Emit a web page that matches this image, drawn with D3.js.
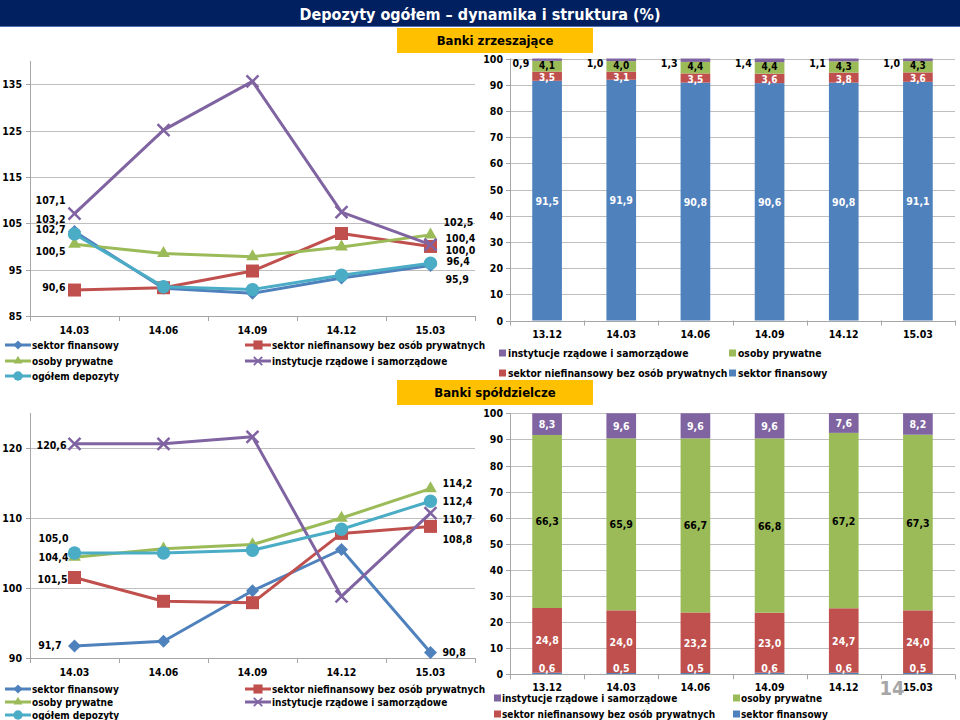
<!DOCTYPE html>
<html><head><meta charset="utf-8">
<script src="https://cdn.jsdelivr.net/npm/d3@7"></script>
<style>
body{margin:0;background:#fff}
svg{display:block}
text{font-family:'DejaVu Sans Condensed','DejaVu Sans',sans-serif;font-weight:bold}
</style>
</head><body><svg id="c" width="960" height="720"></svg>
<script>
// ---------- DATA ----------
const lineDates = ["14.03","14.06","14.09","14.12","15.03"];
const barDates = ["13.12","14.03","14.06","14.09","14.12","15.03"];
const seriesNames = ["sektor finansowy","sektor niefinansowy bez osób prywatnych","osoby prywatne","instytucje rządowe i samorządowe","ogółem depozyty"];

// Banki zrzeszające – dynamika
const zrzFin    = [103.2, 91.0, 89.9, 93.2, 95.9];
const zrzNiefin = [90.6, 91.1, 94.7, 102.8, 100.0];
const zrzOsoby  = [100.5, 98.5, 97.8, 99.9, 102.5];
const zrzInst   = [107.1, 125.1, 135.6, 107.4, 100.4];
const zrzOgolem = [102.7, 91.3, 90.7, 93.8, 96.4];
const zrzTicks  = [85, 95, 105, 115, 125, 135];

// Banki spółdzielcze – dynamika
const spFin    = [91.7, 92.4, 99.6, 105.5, 90.8];
const spNiefin = [101.5, 98.1, 97.9, 107.8, 108.8];
const spOsoby  = [104.4, 105.6, 106.2, 110.0, 114.2];
const spInst   = [120.6, 120.6, 121.6, 98.8, 110.7];
const spOgolem = [105.0, 105.0, 105.4, 108.4, 112.4];
const spTicks  = [90, 100, 110, 120];

// Banki zrzeszające – struktura
const strZrzFin    = [91.5, 91.9, 90.8, 90.6, 90.8, 91.1];
const strZrzNiefin = [3.5, 3.1, 3.5, 3.6, 3.8, 3.6];
const strZrzOsoby  = [4.1, 4.0, 4.4, 4.4, 4.3, 4.3];
const strZrzInst   = [0.9, 1.0, 1.3, 1.4, 1.1, 1.0];

// Banki spółdzielcze – struktura
const strSpFin    = [0.6, 0.5, 0.5, 0.6, 0.6, 0.5];
const strSpNiefin = [24.8, 24.0, 23.2, 23.0, 24.7, 24.0];
const strSpOsoby  = [66.3, 65.9, 66.7, 66.8, 67.2, 67.3];
const strSpInst   = [8.3, 9.6, 9.6, 9.6, 7.6, 8.2];
const barTicks = [0, 10, 20, 30, 40, 50, 60, 70, 80, 90, 100];

// ---------- STYLE ----------
const COL = ["#4F81BD", "#C0504D", "#9BBB59", "#8064A2", "#4BACC6"];
const MARK = ["diamond", "square", "triangle", "x", "circle"];
const GRID = "#BEBEBE", AXIS = "#A6A6A6";
const FS = 10.5;
const fmt = v => d3.format(".1f")(v).replace(".", ",");

const svg = d3.select("#c");

// title bar
svg.append("rect").attr("x",0).attr("y",0).attr("width",960).attr("height",26).attr("fill","#002060");
svg.append("line").attr("x1",0).attr("x2",960).attr("y1",26.5).attr("y2",26.5).attr("stroke","#4F6FB0").attr("stroke-width",1);
svg.append("text").attr("x",480).attr("y",14).attr("text-anchor","middle").attr("dominant-baseline","central")
  .attr("fill","#fff").attr("font-size",16).text("Depozyty ogółem – dynamika i struktura (%)");

function banner(y, label){
  svg.append("rect").attr("x",397).attr("y",y).attr("width",196).attr("height",25).attr("fill","#FFC000");
  svg.append("text").attr("x",495).attr("y",y+12.5).attr("text-anchor","middle").attr("dominant-baseline","central")
    .attr("font-size",13).attr("fill","#000").text(label);
}
banner(28, "Banki zrzeszające");
banner(380, "Banki spółdzielcze");

function drawMarker(g, type, x, y, color, sc){
  sc = sc || 1;
  if (type === "x"){
    const r = 6*sc;
    g.append("path").attr("d",`M${x-r},${y-r}L${x+r},${y+r}M${x-r},${y+r}L${x+r},${y-r}`)
      .attr("stroke",color).attr("stroke-width",2.5*sc).attr("fill","none");
    return;
  }
  let sym, size, rot = 0;
  if (type==="diamond"){ sym = d3.symbolSquare; size = 85*sc*sc; rot = 45; }
  if (type==="square"){ sym = d3.symbolSquare; size = 169*sc*sc; }
  if (type==="triangle"){ sym = d3.symbolTriangle; size = 70*sc*sc; }
  if (type==="circle"){ sym = d3.symbolCircle; size = 140*sc*sc; }
  g.append("path").attr("d", d3.symbol().type(sym).size(size)())
    .attr("transform",`translate(${x},${y}) rotate(${rot})`).attr("fill",color);
}

function lineChart(cfg){
  const g = svg.append("g");
  const xb = d3.scaleBand().domain(lineDates).range([30,475]);
  const xc = d => xb(d) + xb.bandwidth()/2;
  const y = d3.scaleLinear().domain(cfg.domain).range([cfg.yBot, cfg.yTop]);
  g.selectAll(".gr").data(cfg.ticks.filter(t=>t!==cfg.domain[0])).join("line")
    .attr("x1",30).attr("x2",475).attr("y1",d=>Math.round(y(d))+0.5).attr("y2",d=>Math.round(y(d))+0.5)
    .attr("stroke",GRID);
  g.append("line").attr("x1",30.5).attr("x2",30.5).attr("y1",cfg.yTop).attr("y2",cfg.yBot).attr("stroke",AXIS);
  g.append("line").attr("x1",30).attr("x2",475).attr("y1",Math.round(cfg.yBot)+0.5).attr("y2",Math.round(cfg.yBot)+0.5).attr("stroke",AXIS);
  g.selectAll(".yt").data(cfg.ticks).join("line")
    .attr("x1",26).attr("x2",30).attr("y1",d=>Math.round(y(d))+0.5).attr("y2",d=>Math.round(y(d))+0.5).attr("stroke",AXIS);
  g.selectAll(".xt").data(lineDates.map(d=>xb(d)).concat([475])).join("line")
    .attr("x1",d=>Math.round(d)+0.5).attr("x2",d=>Math.round(d)+0.5).attr("y1",cfg.yBot).attr("y2",cfg.yBot+5).attr("stroke",AXIS);
  g.selectAll(".yl").data(cfg.ticks).join("text")
    .attr("x",22).attr("y",d=>y(d)).attr("text-anchor","end").attr("dominant-baseline","central")
    .attr("font-size",FS).text(d=>d);
  g.selectAll(".xl").data(lineDates).join("text")
    .attr("x",d=>xc(d)).attr("y",cfg.yBot+14).attr("text-anchor","middle").attr("dominant-baseline","central")
    .attr("font-size",FS).text(d=>d);
  const line = d3.line().x((v,i)=>xc(lineDates[i])).y(v=>y(v));
  cfg.series.forEach((vals,si)=>{
    g.append("path").attr("d",line(vals)).attr("fill","none").attr("stroke",COL[si]).attr("stroke-width",3).attr("stroke-linejoin","round");
    vals.forEach((v,i)=>drawMarker(g, MARK[si], xc(lineDates[i]), y(v), COL[si]));
  });
  cfg.series.forEach((vals,si)=>{
    const L = cfg.leftOff[si], R = cfg.rightOff[si];
    g.append("text").attr("x",xc(lineDates[0])+L[0]).attr("y",y(vals[0])+L[1])
      .attr("text-anchor","end").attr("dominant-baseline","central").attr("font-size",FS).text(fmt(vals[0]));
    const n = vals.length-1;
    g.append("text").attr("x",xc(lineDates[n])+R[0]).attr("y",y(vals[n])+R[1])
      .attr("text-anchor","start").attr("dominant-baseline","central").attr("font-size",FS).text(fmt(vals[n]));
  });
  const pos = [[5,0],[245,0],[5,1],[245,1],[5,2]];
  seriesNames.forEach((name,si)=>{
    const [lx,row] = pos[si];
    const ly = cfg.legendY[row];
    g.append("line").attr("x1",lx).attr("x2",lx+26).attr("y1",ly).attr("y2",ly).attr("stroke",COL[si]).attr("stroke-width",3);
    drawMarker(g, MARK[si], lx+13, ly, COL[si], 0.7);
    g.append("text").attr("x",lx+27).attr("y",ly).attr("dominant-baseline","central").attr("font-size",cfg.legendFont).text(name);
  });
}

lineChart({
  domain:[85,140], ticks:zrzTicks, yTop:61, yBot:316,
  series:[zrzFin, zrzNiefin, zrzOsoby, zrzInst, zrzOgolem],
  leftOff:[[-9,-13],[-9,-3],[-9,7],[-9,-14],[-9,-5]],
  rightOff:[[15,14],[15,4],[13,-13],[15,-7],[16,-2]],
  legendY:[345,361,376], legendFont:10
});
lineChart({
  domain:[90,125], ticks:spTicks, yTop:413, yBot:658,
  series:[spFin, spNiefin, spOsoby, spInst, spOgolem],
  leftOff:[[-13,-1],[-7,1],[-6,0],[-8,1],[-6,-15]],
  rightOff:[[12,0],[12,13],[12,-6],[12,6],[12,0]],
  legendY:[689,702,715], legendFont:10
});

function barChart(cfg){
  const g = svg.append("g");
  const x = d3.scaleBand().domain(barDates).range([510,955]).paddingInner(0.6).paddingOuter(0.3);
  const xe = d3.scaleBand().domain(barDates).range([510,955]);
  const y = d3.scaleLinear().domain([0,100]).range([cfg.yBot, cfg.yTop]);
  g.selectAll(".gr").data(barTicks.filter(t=>t>0)).join("line")
    .attr("x1",510).attr("x2",955).attr("y1",d=>Math.round(y(d))+0.5).attr("y2",d=>Math.round(y(d))+0.5).attr("stroke",GRID);
  g.append("line").attr("x1",510.5).attr("x2",510.5).attr("y1",cfg.yTop).attr("y2",cfg.yBot).attr("stroke",AXIS);
  g.selectAll(".yt").data(barTicks).join("line")
    .attr("x1",506).attr("x2",510).attr("y1",d=>Math.round(y(d))+0.5).attr("y2",d=>Math.round(y(d))+0.5).attr("stroke",AXIS);
  g.selectAll(".yl").data(barTicks).join("text")
    .attr("x",503).attr("y",d=>y(d)).attr("text-anchor","end").attr("dominant-baseline","central")
    .attr("font-size",FS).text(d=>d);
  const stack = [cfg.fin, cfg.niefin, cfg.osoby, cfg.inst];
  const labels = [];
  barDates.forEach((d,i)=>{
    let base = 0;
    stack.forEach((s,si)=>{
      g.append("rect").attr("x",x(d)).attr("width",x.bandwidth())
        .attr("y",y(base+s[i])).attr("height",y(base)-y(base+s[i])).attr("fill",COL[si]);
      labels.push({d, si, v:s[i], mid: base + s[i]/2});
      base += s[i];
    });
  });
  labels.forEach(l=>{
    const st = cfg.labelStyle[l.si];
    let lx = x(l.d)+x.bandwidth()/2, anchor = "middle";
    if (st.outside){ lx = x(l.d)-3; anchor = "end"; }
    g.append("text").attr("x",lx).attr("y",y(l.mid)+st.dy).attr("text-anchor",anchor)
      .attr("dominant-baseline","central").attr("font-size",st.fs||FS).attr("fill",st.color).text(fmt(l.v));
  });
  g.append("line").attr("x1",510).attr("x2",955).attr("y1",Math.round(cfg.yBot)+0.5).attr("y2",Math.round(cfg.yBot)+0.5).attr("stroke",AXIS);
  g.selectAll(".xt").data(barDates.map(d=>xe(d)).concat([955])).join("line")
    .attr("x1",d=>Math.round(d)+0.5).attr("x2",d=>Math.round(d)+0.5).attr("y1",cfg.yBot).attr("y2",cfg.yBot+5).attr("stroke",AXIS);
  g.selectAll(".xl").data(barDates).join("text")
    .attr("x",d=>x(d)+x.bandwidth()/2).attr("y",cfg.yBot+13).attr("text-anchor","middle").attr("dominant-baseline","central")
    .attr("font-size",FS).text(d=>d);
  const order = [3,2,1,0];
  order.forEach((si,k)=>{
    const lx = cfg.legX[k%2], ly = cfg.legY[Math.floor(k/2)];
    g.append("rect").attr("x",lx).attr("y",ly-3.5).attr("width",7).attr("height",7).attr("fill",COL[si]);
    g.append("text").attr("x",lx+cfg.legGap).attr("y",ly).attr("dominant-baseline","central")
      .attr("font-size",cfg.legFont).text(seriesNames[si]);
  });
}

barChart({
  yTop:58.5, yBot:320.5, fin:strZrzFin, niefin:strZrzNiefin, osoby:strZrzOsoby, inst:strZrzInst,
  labelStyle:[{color:"#fff",dy:0},{color:"#fff",dy:1.5,fs:10},{color:"#000",dy:-1,fs:10},{color:"#000",dy:3,outside:true}],
  legX:[499,729], legY:[353,373], legGap:9, legFont:10.3
});
barChart({
  yTop:413.3, yBot:674.3, fin:strSpFin, niefin:strSpNiefin, osoby:strSpOsoby, inst:strSpInst,
  labelStyle:[{color:"#fff",dy:-6},{color:"#fff",dy:0},{color:"#000",dy:0},{color:"#fff",dy:0}],
  legX:[494,733], legY:[698,714], legGap:8, legFont:10
});

// page number
svg.append("text").attr("x",892).attr("y",688).attr("text-anchor","middle").attr("dominant-baseline","central")
  .attr("font-size",20).attr("fill","#A6A6A6").text("14");
</script>
</body></html>
